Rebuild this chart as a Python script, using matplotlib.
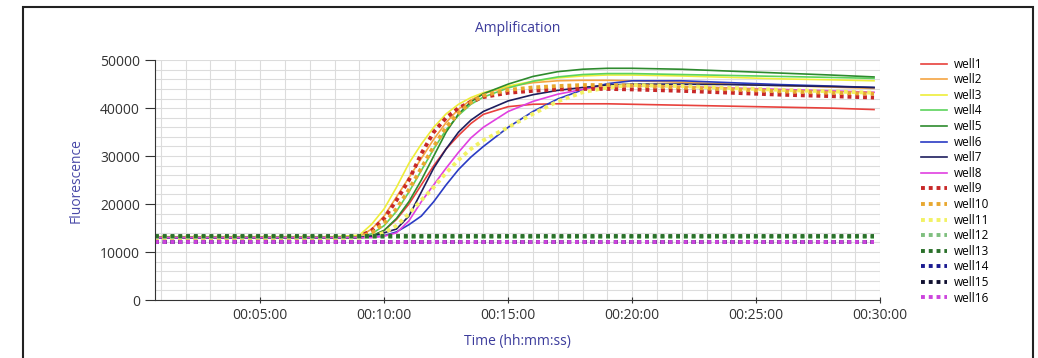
import matplotlib
matplotlib.use("Agg")
import matplotlib.pyplot as plt
from matplotlib.patches import Rectangle
from matplotlib.ticker import MultipleLocator, FuncFormatter

plt.rcParams['font.family'] = ['Open Sans', 'DejaVu Sans']

# time in minutes
time_min = [0.75, 2, 4, 6, 8, 9, 9.5, 10, 10.5, 11, 11.5, 12, 12.5, 13, 13.5,
            14, 15, 16, 17, 18, 19, 20, 22, 24, 26, 28, 29.75]

well1 = [13000, 13000, 13000, 13000, 13000, 13000, 13300, 14500, 16800, 20000, 24000, 28000, 31500, 34300, 36800,
         38700, 40300, 40800, 40900, 40900, 40900, 40800, 40600, 40400, 40200, 40000, 39700]
well2 = [13100, 13100, 13100, 13100, 13100, 13200, 14800, 17500, 21500, 25500, 29500, 33500, 37000, 39800, 41700,
         43000, 44500, 45300, 45700, 45800, 45800, 45700, 45400, 45000, 44700, 44400, 44100]
well3 = [13200, 13200, 13200, 13200, 13200, 13500, 15800, 19000, 23500, 28500, 32500, 36000, 38800, 40800, 42200,
         43200, 44600, 45600, 46300, 46700, 46900, 46900, 46700, 46400, 46100, 45900, 45700]
well4 = [13000, 13000, 13000, 13000, 13000, 13000, 13800, 15500, 18500, 22500, 27000, 31500, 35500, 38500, 40800,
         42300, 44200, 45600, 46500, 47000, 47200, 47200, 47000, 46800, 46600, 46400, 46200]
well5 = [13000, 13000, 13000, 13000, 13000, 13000, 13400, 14500, 17000, 20500, 25000, 30000, 35000, 38800, 41300,
         43000, 45000, 46600, 47600, 48100, 48300, 48300, 48100, 47700, 47300, 46900, 46500]
well6 = [13000, 13000, 13000, 13000, 13000, 13000, 13100, 13400, 14200, 15700, 17500, 20500, 24000, 27200, 29800,
         32000, 36000, 39300, 41900, 43800, 45100, 45700, 45700, 45300, 44900, 44600, 44300]
well7 = [13000, 13000, 13000, 13000, 13000, 13000, 13300, 14000, 14800, 17500, 22500, 27500, 31500, 35000, 37500,
         39300, 41500, 42800, 43700, 44300, 44800, 45000, 45000, 44900, 44700, 44500, 44300]
well8 = [13000, 13000, 13000, 13000, 13000, 13000, 13000, 13300, 14000, 16500, 20500, 24000, 27500, 30800, 33800,
         36000, 39300, 41400, 42900, 43900, 44400, 44600, 44500, 44200, 43900, 43600, 43300]
well9 = [13000, 13000, 13000, 13000, 13000, 13200, 14500, 17000, 20800, 25000, 30500, 35000, 38000, 40000, 41300,
         42300, 43200, 43600, 43900, 44000, 44000, 43900, 43600, 43200, 42800, 42500, 42200]
well10 = [13100, 13100, 13100, 13100, 13100, 13100, 14000, 16000, 19000, 23000, 27500, 32000, 36000, 39000, 41200,
          42600, 43800, 44300, 44600, 44800, 44800, 44700, 44300, 43900, 43500, 43200, 43000]
well11 = [13000, 13000, 13000, 13000, 13000, 13000, 13200, 14000, 15500, 18000, 20800, 23500, 26500, 29200, 31500,
          33300, 36000, 38800, 41400, 43300, 44300, 44800, 44600, 44200, 43800, 43500, 43200]

# flat (negative) wells
flat_time = [0.75, 29.75]
well12 = [13100, 13100]
well13 = [13300, 13300]
well14 = [12100, 12100]
well15 = [12100, 12100]
well16 = [12000, 12000]

wells = [
    ("well1", time_min, well1, '#e8413c', '-'),
    ("well2", time_min, well2, '#f5a442', '-'),
    ("well3", time_min, well3, '#eeee3a', '-'),
    ("well4", time_min, well4, '#5cd35c', '-'),
    ("well5", time_min, well5, '#2e8b2e', '-'),
    ("well6", time_min, well6, '#2a3bc4', '-'),
    ("well7", time_min, well7, '#1e1e5e', '-'),
    ("well8", time_min, well8, '#e040e0', '-'),
    ("well9", time_min, well9, '#c82828', ':'),
    ("well10", time_min, well10, '#e8a830', ':'),
    ("well11", time_min, well11, '#f2f264', ':'),
    ("well12", flat_time, well12, '#7fbf7f', ':'),
    ("well13", flat_time, well13, '#2a702a', ':'),
    ("well14", flat_time, well14, '#1a1a90', ':'),
    ("well15", flat_time, well15, '#101030', ':'),
    ("well16", flat_time, well16, '#cc44dd', ':'),
]

fig = plt.figure(figsize=(10.38, 3.58), dpi=100)
ax = fig.add_axes([0.149, 0.162, 0.699, 0.670])

for name, t, y, c, ls in wells:
    if ls == ':':
        ax.plot(t, y, color=c, linestyle=(0, (1, 1)), linewidth=2.8, label=name)
    else:
        ax.plot(t, y, color=c, linestyle='-', linewidth=1.2, label=name)

def fmt_time(x, pos):
    s = int(round(x * 60))
    return f"{s // 3600:02d}:{(s % 3600) // 60:02d}:{s % 60:02d}"

ax.set_xlim(0.75, 30)
ax.set_ylim(0, 50000)
ax.xaxis.set_major_locator(MultipleLocator(5))
ax.xaxis.set_minor_locator(MultipleLocator(1))
ax.xaxis.set_major_formatter(FuncFormatter(fmt_time))
ax.yaxis.set_major_locator(MultipleLocator(10000))
ax.yaxis.set_minor_locator(MultipleLocator(2000))

ax.grid(True, which='both', color='#dcdcdc', linewidth=0.8)
ax.set_axisbelow(True)
for s in ['top', 'right']:
    ax.spines[s].set_visible(False)
for s in ['left', 'bottom']:
    ax.spines[s].set_color('#333333')
ax.tick_params(which='minor', length=0)
ax.tick_params(axis='y', which='major', length=7, color='#333333', labelsize=10, labelcolor='#333333')
ax.tick_params(axis='x', which='major', length=5, direction='inout', color='#333333', labelsize=10,
               labelcolor='#333333')

ax.set_title("Amplification", color='#3c3c9c', fontsize=10, pad=20)
ax.set_ylabel("Fluorescence", color='#4a4aa8', fontsize=10, labelpad=12)
ax.set_xlabel("Time (hh:mm:ss)", color='#3c3c9c', fontsize=10, labelpad=8)

ax.legend(loc='upper left', bbox_to_anchor=(1.05, 1.03), frameon=False, fontsize=8.5,
          handlelength=2.2, labelspacing=0.22, handletextpad=0.6, borderaxespad=0)

fig.patches.append(Rectangle((0.022, -0.1), 0.973, 1.08, transform=fig.transFigure,
                             fill=False, linewidth=1.5, edgecolor='#222222'))

plt.savefig("out.png", dpi=100)
